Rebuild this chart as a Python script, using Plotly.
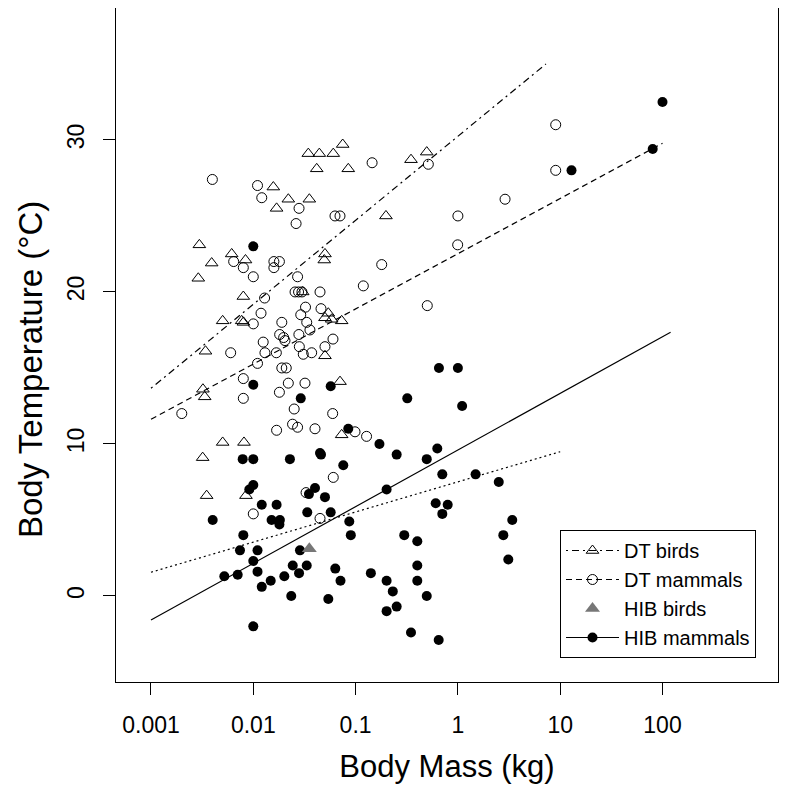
import plotly.graph_objects as go

# ---- DT birds (open triangles) ----
dt_bird_mass = [0.0345, 0.0442, 0.0605, 0.0748, 0.0417, 0.0848, 0.348, 0.496,
                0.0157, 0.0220, 0.0353, 0.0169, 0.198, 0.00297, 0.00615, 0.00839,
                0.00392, 0.00290, 0.0502, 0.0494, 0.00799, 0.00502, 0.00770, 0.00802,
                0.0541, 0.0502, 0.0584, 0.0731, 0.0304, 0.00341, 0.0502, 0.0704,
                0.00322, 0.00335, 0.00502, 0.00811, 0.00320, 0.00350, 0.00848, 0.0731]
dt_bird_temp = [29.1, 29.1, 29.1, 29.7, 28.1, 28.1, 28.7, 29.2,
                26.9, 26.1, 26.1, 25.5, 25.0, 23.1, 22.5, 22.1,
                21.9, 20.9, 22.5, 22.1, 19.7, 18.1, 18.1, 18.0,
                18.6, 18.3, 18.2, 18.1, 20.0, 16.1, 15.8, 14.1,
                13.6, 13.1, 10.1, 10.1, 9.1, 6.6, 6.6, 10.6]

# ---- DT mammals (open circles) ----
dt_mam_mass = [0.00398, 0.0110, 0.0121, 0.0280, 0.0262, 0.0629, 0.0704, 0.145,
               0.514, 1.00, 0.995, 2.89, 9.04, 9.04, 0.180, 0.119,
               0.502, 0.00643, 0.00799, 0.0159, 0.0180, 0.0159, 0.0100, 0.0271,
               0.0256, 0.0277, 0.0299, 0.0449, 0.0129, 0.0324, 0.0459, 0.0119,
               0.0291, 0.0190, 0.0333, 0.0100, 0.0358, 0.0601, 0.0181, 0.0198,
               0.0204, 0.0279, 0.0125, 0.0282, 0.0502, 0.00601, 0.0130, 0.0168,
               0.0308, 0.0372, 0.0110, 0.0190, 0.0210, 0.00799, 0.0220, 0.0320,
               0.0180, 0.00799, 0.0251, 0.0597, 0.00200, 0.0242, 0.0271, 0.0169,
               0.0401, 0.0987, 0.128, 0.0605, 0.0328, 0.0100, 0.0449]
dt_mam_temp = [27.4, 27.0, 26.2, 25.5, 24.5, 25.0, 25.0, 28.5,
               28.4, 25.0, 23.1, 26.1, 31.0, 28.0, 21.8, 20.4,
               19.1, 22.0, 21.6, 22.0, 22.0, 21.6, 21.0, 21.0,
               20.0, 20.0, 20.0, 20.0, 19.6, 19.0, 18.9, 18.6,
               18.5, 18.0, 18.0, 17.9, 17.5, 16.9, 17.2, 17.0,
               16.8, 17.2, 16.7, 16.4, 16.4, 16.0, 16.0, 16.0,
               15.9, 16.0, 15.3, 15.0, 15.0, 14.3, 14.0, 14.0,
               13.4, 13.0, 12.3, 12.0, 12.0, 11.3, 11.1, 10.9,
               11.0, 10.8, 10.5, 7.8, 6.8, 5.4, 5.1]

# ---- HIB birds (grey filled triangle) ----
hib_bird_mass = [0.0353]
hib_bird_temp = [3.1]

# ---- HIB mammals (filled circles) ----
hib_mam_mass = [0.0100, 0.0100, 0.0291, 0.0571, 0.0848, 0.00788, 0.0100, 0.0228,
                0.0449, 0.0459, 0.0758, 0.0100, 0.00914, 0.0121, 0.0169, 0.00401,
                0.0151, 0.0182, 0.0180, 0.0350, 0.0401, 0.0502, 0.0337, 0.0571,
                0.0868, 0.0898, 0.00799, 0.00741, 0.0110, 0.0100, 0.0110, 0.0286,
                0.00521, 0.00704, 0.0121, 0.0148, 0.0201, 0.0243, 0.0280, 0.0333,
                0.0235, 0.0541, 0.0633, 0.0712, 0.0100, 0.171, 0.252, 0.496,
                0.629, 0.704, 1.49, 2.51, 0.201, 0.607, 0.795, 0.704,
                3.40, 2.78, 3.11, 0.299, 0.401, 0.401, 0.401, 0.141,
                0.201, 0.231, 0.496, 0.201, 0.252, 0.348, 0.649, 0.653,
                1.00, 0.320, 1.10, 12.9, 100.0, 80.2]
hib_mam_temp = [23.0, 13.9, 13.0, 13.8, 11.0, 9.0, 9.0, 9.0,
                9.4, 9.3, 8.6, 7.3, 7.0, 6.0, 6.0, 5.0,
                5.0, 5.0, 4.7, 6.7, 7.1, 6.5, 5.5, 5.5,
                4.9, 4.0, 4.0, 3.0, 3.0, 2.3, 1.6, 3.0,
                1.3, 1.4, 0.6, 1.0, 1.3, 2.0, 1.5, 2.0,
                0.0, -0.2, 1.8, 1.0, -2.0, 10.0, 9.3, 9.0,
                9.7, 8.0, 8.0, 7.5, 7.0, 6.1, 6.0, 5.4,
                5.0, 4.0, 2.4, 4.0, 3.6, 2.0, 1.0, 1.5,
                1.0, 0.3, 0.0, -1.0, -0.7, -2.4, -2.9, 15.0,
                15.0, 13.0, 12.5, 28.0, 32.5, 29.4]

# ---- fitted lines (end points) ----
dt_bird_fit_mass = [0.001, 7.26]
dt_bird_fit_temp = [13.66, 35.0]
dt_mam_fit_mass = [0.001, 100]
dt_mam_fit_temp = [11.62, 29.78]
hib_mam_fit_mass = [0.001, 120]
hib_mam_fit_temp = [-1.58, 17.35]
dotted_fit_mass = [0.001, 10]
dotted_fit_temp = [1.56, 9.49]

x_tickvals = [0.001, 0.01, 0.1, 1, 10, 100]
x_ticktext = ["0.001", "0.01", "0.1", "1", "10", "100"]
y_tickvals = [0, 10, 20, 30]

FONT = "Liberation Sans, Arial, Helvetica, sans-serif"
DOTDASH = "2px,4px,7px,4px"
DASHED = "6px,4px"
DOTTED = "2px,3px"
MS = 10

fig = go.Figure()

# points
fig.add_trace(go.Scatter(x=dt_bird_mass, y=dt_bird_temp, mode="markers", showlegend=False,
                         marker=dict(symbol="triangle-up-open", size=MS + 1, color="black",
                                     line=dict(width=1, color="black"))))
fig.add_trace(go.Scatter(x=dt_mam_mass, y=dt_mam_temp, mode="markers", showlegend=False,
                         marker=dict(symbol="circle-open", size=MS, color="black",
                                     line=dict(width=1, color="black"))))
fig.add_trace(go.Scatter(x=hib_mam_mass, y=hib_mam_temp, mode="markers", showlegend=False,
                         marker=dict(symbol="circle", size=MS, color="black",
                                     line=dict(width=0))))
fig.add_trace(go.Scatter(x=hib_bird_mass, y=hib_bird_temp, mode="markers", showlegend=False,
                         marker=dict(symbol="triangle-up", size=MS + 3, color="#777777",
                                     line=dict(width=0))))

# lines
fig.add_trace(go.Scatter(x=dt_bird_fit_mass, y=dt_bird_fit_temp, mode="lines", showlegend=False,
                         line=dict(color="black", width=1.2, dash=DOTDASH)))
fig.add_trace(go.Scatter(x=dt_mam_fit_mass, y=dt_mam_fit_temp, mode="lines", showlegend=False,
                         line=dict(color="black", width=1.2, dash=DASHED)))
fig.add_trace(go.Scatter(x=hib_mam_fit_mass, y=hib_mam_fit_temp, mode="lines", showlegend=False,
                         line=dict(color="black", width=1.2)))
fig.add_trace(go.Scatter(x=dotted_fit_mass, y=dotted_fit_temp, mode="lines", showlegend=False,
                         line=dict(color="black", width=1.2, dash=DOTTED)))

# legend entries
fig.add_trace(go.Scatter(x=[None], y=[None], mode="lines+markers", name="DT birds",
                         line=dict(color="black", width=1.2, dash=DOTDASH),
                         marker=dict(symbol="triangle-up-open", size=MS + 1, color="black",
                                     line=dict(width=1, color="black"))))
fig.add_trace(go.Scatter(x=[None], y=[None], mode="lines+markers", name="DT mammals",
                         line=dict(color="black", width=1.2, dash=DASHED),
                         marker=dict(symbol="circle-open", size=MS, color="black",
                                     line=dict(width=1, color="black"))))
fig.add_trace(go.Scatter(x=[None], y=[None], mode="markers", name="HIB birds",
                         marker=dict(symbol="triangle-up", size=MS + 3, color="#777777")))
fig.add_trace(go.Scatter(x=[None], y=[None], mode="lines+markers", name="HIB mammals",
                         line=dict(color="black", width=1.2),
                         marker=dict(symbol="circle", size=MS, color="black")))

fig.update_layout(
    width=800, height=792,
    margin=dict(l=108, r=30, t=0, b=118, autoexpand=False),
    paper_bgcolor="white", plot_bgcolor="white",
    font=dict(family=FONT, color="black", size=23),
    legend=dict(x=0.6707, y=0.0356, xanchor="left", yanchor="bottom",
                bordercolor="black", borderwidth=1, bgcolor="white",
                font=dict(size=20, family=FONT), itemwidth=53,
                tracegroupgap=0),
    xaxis=dict(type="log", range=[-3.342, 3.129], tickvals=x_tickvals, ticktext=x_ticktext,
               showgrid=False, zeroline=False, showline=True, mirror=True,
               linecolor="black", linewidth=1, ticks="outside", ticklen=12,
               tickcolor="black", tickwidth=1, tickfont=dict(size=23),
               ticklabelstandoff=10,
               title=dict(text="Body Mass (kg)", font=dict(size=31), standoff=18)),
    yaxis=dict(range=[-5.66, 38.68], tickvals=y_tickvals, tickangle=-90,
               showgrid=False, zeroline=False, showline=True, mirror=True,
               linecolor="black", linewidth=1, ticks="outside", ticklen=12,
               tickcolor="black", tickwidth=1, tickfont=dict(size=23),
               ticklabelstandoff=10),
    annotations=[dict(text="Body Temperature (°C)", xref="paper", yref="paper",
                      x=-0.1299, y=0.4629, xanchor="center", yanchor="middle",
                      textangle=-90, showarrow=False,
                      font=dict(size=33, family=FONT, color="black"))],
)

fig.write_html("out.html")
